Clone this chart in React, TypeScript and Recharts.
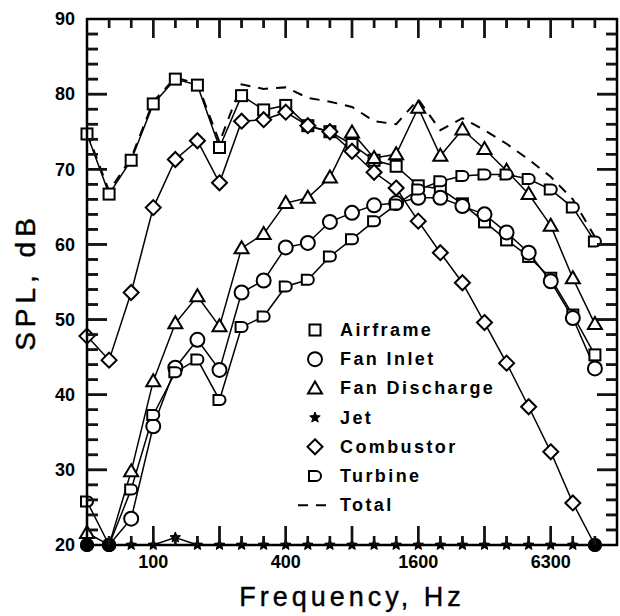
import React from 'react';
import { LineChart, Line, XAxis, YAxis, Legend, Label } from 'recharts';

// one-third octave bands, Hz
const bands = [50, 63, 80, 100, 125, 160, 200, 250, 315, 400, 500, 630, 800, 1000, 1250, 1600, 2000, 2500, 3150, 4000, 5000, 6300, 8000, 10000];
const labelBands = [3, 9, 15, 21];
const labelText = ['100', '400', '1600', '6300'];
const yLabels = [20, 30, 40, 50, 60, 70, 80, 90];

// SPL, dB
const airframe = [74.7, 66.7, 71.2, 78.7, 82.0, 81.2, 72.9, 79.8, 77.9, 78.5, 75.8, 75.0, 73.3, 71.2, 70.4, 67.8, 67.4, 65.4, 63.0, 60.6, 58.4, 55.5, 50.6, 45.3];
const fanInlet = [20, 20, 23.5, 35.8, 43.6, 47.3, 43.3, 53.6, 55.2, 59.6, 60.2, 63.0, 64.2, 65.2, 65.5, 66.2, 66.2, 65.1, 64.0, 61.6, 58.9, 55.1, 50.2, 43.5];
const fanDischarge = [21.6, 20, 29.8, 41.8, 49.5, 53.1, 49.1, 59.5, 61.4, 65.5, 66.2, 68.9, 74.9, 71.5, 72.0, 78.2, 71.8, 75.3, 72.7, 69.8, 66.7, 62.5, 55.5, 49.4];
const jet = [20, 20, 20, 20, 21, 20, 20, 20, 20, 20, 20, 20, 20, 20, 20, 20, 20, 20, 20, 20, 20, 20, 20, 20];
const combustor = [47.8, 44.6, 53.6, 64.9, 71.3, 73.8, 68.2, 76.4, 76.6, 77.6, 75.8, 75.0, 72.4, 69.6, 67.5, 63.1, 58.9, 54.9, 49.6, 44.2, 38.4, 32.4, 25.6, 20];
const turbine = [25.8, 20, 27.4, 37.3, 43.0, 44.7, 39.3, 49.0, 50.4, 54.4, 55.3, 58.4, 60.7, 63.1, 65.3, 67.3, 68.4, 69.1, 69.3, 69.3, 68.7, 67.3, 64.9, 60.4];
const total = [74.9, 67.1, 71.5, 79.0, 82.2, 81.4, 73.6, 81.3, 80.7, 80.9, 79.5, 79.0, 78.3, 76.4, 76.0, 79.3, 75.2, 76.8, 75.2, 73.4, 71.3, 69.0, 66.0, 61.0];

const FONT = '"Liberation Sans", Arial, sans-serif';
const INK = '#141414';

const W = 620;
const H = 616;
const MARGIN = { top: 19, right: 3, left: 27, bottom: 0 };
const Y_AXIS_W = 60;
const X_AXIS_H = 71;
const PLOT_X = MARGIN.left + Y_AXIS_W;
const PLOT_Y = MARGIN.top;
const PLOT_W = W - MARGIN.left - MARGIN.right - Y_AXIS_W;
const PLOT_H = H - MARGIN.top - MARGIN.bottom - X_AXIS_H;
const X_MAX = 24;
const Y_MIN = 20;
const Y_MAX = 90;

const series = [
    { key: 'airframe', name: 'Airframe', shape: 'square' },
    { key: 'fanInlet', name: 'Fan Inlet', shape: 'circle' },
    { key: 'fanDischarge', name: 'Fan Discharge', shape: 'triangle' },
    { key: 'jet', name: 'Jet', shape: 'star' },
    { key: 'combustor', name: 'Combustor', shape: 'diamond' },
    { key: 'turbine', name: 'Turbine', shape: 'dee' },
];

const data = bands.map((f, i) => ({
    band: i,
    freq: f,
    airframe: airframe[i],
    fanInlet: fanInlet[i],
    fanDischarge: fanDischarge[i],
    jet: jet[i],
    combustor: combustor[i],
    turbine: turbine[i],
    total: total[i],
}));

// how many series sit on the 20 dB floor at a band
const floorCount = (i) => [airframe, fanInlet, fanDischarge, jet, combustor, turbine].filter(a => a[i] <= 20).length;

const starPath = (cx, cy, r) => {
    let d = '';
    for (let k = 0; k < 10; k++) {
        const rr = k % 2 === 0 ? r : r * 0.45;
        const a = -Math.PI / 2 + (k * Math.PI) / 5;
        d += (k === 0 ? 'M' : 'L') + (cx + rr * Math.cos(a)).toFixed(2) + ',' + (cy + rr * Math.sin(a)).toFixed(2);
    }
    return d + 'Z';
};

const Marker = ({ shape, cx, cy }) => {
    const s = { fill: '#fff', stroke: '#000', strokeWidth: 2 };
    switch (shape) {
        case 'square':
            return <rect x={cx - 5.5} y={cy - 5.5} width={11} height={11} {...s} />;
        case 'circle':
            return <circle cx={cx} cy={cy} r={7} {...s} />;
        case 'triangle':
            return <path d={`M${cx},${cy - 7} L${cx + 7},${cy + 5} L${cx - 7},${cy + 5} Z`} {...s} />;
        case 'diamond':
            return <path d={`M${cx},${cy - 7.5} L${cx + 7.5},${cy} L${cx},${cy + 7.5} L${cx - 7.5},${cy} Z`} {...s} />;
        case 'star':
            return <path d={starPath(cx, cy, 5.5)} fill="#000" stroke="#000" strokeWidth={1} />;
        case 'dee':
            return <path d={`M${cx - 6},${cy - 5} L${cx - 6},${cy + 5} L${cx + 1},${cy + 5} A5,5 0 0 0 ${cx + 1},${cy - 5} Z`} {...s} />;
        default:
            return null;
    }
};

const makeDot = (shape) => (props) => {
    const { cx, cy, index, value } = props;
    if (cx == null || cy == null) return <g key={index} />;
    if (value <= 20 && floorCount(index) >= 2) {
        return <circle key={index} cx={cx} cy={cy} r={7} fill="#000" />;
    }
    return <g key={index}><Marker shape={shape} cx={cx} cy={cy} /></g>;
};

const xTickVals = [];
for (let i = 0; i <= X_MAX; i++) xTickVals.push(i);
const yTickVals = [];
for (let v = Y_MIN; v <= Y_MAX; v += 2) yTickVals.push(v);

const xLen = (v) => (v % 3 === 0 ? 19 : 9);
const yLen = (v) => (v % 10 === 0 ? 20 : 11);

const legendText = { fontFamily: FONT, fontWeight: 'bold', fontSize: 18, letterSpacing: 2.4, fill: '#000' };
const LEG_X = 296;
const LEG_Y = 316;

// overlay: frame, inward tick marks (as thin filled rects) and the key
const Overlay = () => {
    const sx = (v) => PLOT_X + (v / X_MAX) * PLOT_W;
    const sy = (v) => PLOT_Y + ((Y_MAX - v) / (Y_MAX - Y_MIN)) * PLOT_H;
    return (
        <svg width={W} height={H} style={{ display: 'block', pointerEvents: 'none' }}>
            <rect x={PLOT_X} y={PLOT_Y} width={PLOT_W} height={PLOT_H} fill="none" stroke="#000" strokeWidth={2.5} />
            {xTickVals.filter(v => v > 0 && v < X_MAX).map(v => (
                <g key={'x' + v} fill={INK}>
                    <rect x={sx(v) - 1.2} y={PLOT_Y + PLOT_H - xLen(v)} width={2.4} height={xLen(v)} />
                    <rect x={sx(v) - 1.2} y={PLOT_Y} width={2.4} height={xLen(v)} />
                </g>
            ))}
            {yTickVals.filter(v => v > Y_MIN && v < Y_MAX).map(v => (
                <g key={'y' + v} fill={INK}>
                    <rect x={PLOT_X} y={sy(v) - 1.25} width={yLen(v)} height={2.5} />
                    <rect x={PLOT_X + PLOT_W - yLen(v)} y={sy(v) - 1.25} width={yLen(v)} height={2.5} />
                </g>
            ))}
            {series.map((s, i) => (
                <g key={s.key}>
                    <Marker shape={s.shape} cx={LEG_X + 19} cy={LEG_Y + 14 + i * 29.2} />
                    <text x={LEG_X + 44} y={LEG_Y + 14 + i * 29.2} dominantBaseline="central" {...legendText}>{s.name}</text>
                </g>
            ))}
            <line x1={LEG_X + 2} x2={LEG_X + 34} y1={LEG_Y + 14 + 6 * 29.2} y2={LEG_Y + 14 + 6 * 29.2} stroke="#000" strokeWidth={2} strokeDasharray="10 8" />
            <text x={LEG_X + 44} y={LEG_Y + 14 + 6 * 29.2} dominantBaseline="central" {...legendText}>Total</text>
        </svg>
    );
};

const tickFont = { fontFamily: FONT, fontSize: 18, fontWeight: 'bold', fill: '#000' };

// frequency axis tick: inward marks at bottom and top, label on the octaves
const FreqTick = ({ x, y, payload }) => {
    const v = payload.value;
    const li = labelBands.indexOf(v);
    const len = xLen(v);
    return (
        <g>
            {v > 0 && v < X_MAX && <path d={`M${x},${y}V${y - len}`} stroke={INK} strokeWidth={2.4} fill="none" />}
            {v > 0 && v < X_MAX && <path d={`M${x},${y - PLOT_H}V${y - PLOT_H + len}`} stroke={INK} strokeWidth={2.4} fill="none" />}
            {li >= 0 && <text x={x} y={y + 23} textAnchor="middle" {...tickFont}>{labelText[li]}</text>}
        </g>
    );
};

// level axis tick: inward marks at left and right, label every 10 dB
const SplTick = ({ x, y, payload }) => {
    const v = payload.value;
    const len = yLen(v);
    return (
        <g>
            {v > Y_MIN && v < Y_MAX && <path d={`M${x},${y}H${x + len}`} stroke={INK} strokeWidth={2.5} fill="none" />}
            {v > Y_MIN && v < Y_MAX && <path d={`M${x + PLOT_W},${y}H${x + PLOT_W - len}`} stroke={INK} strokeWidth={2.5} fill="none" />}
            {yLabels.includes(v) && <text x={x - 12} y={y} dy="0.35em" textAnchor="end" {...tickFont}>{v}</text>}
        </g>
    );
};

export default function App() {
    return (
        <div style={{ position: 'absolute', left: 0, top: 0, background: '#fff' }}>
            <LineChart width={W} height={H} data={data} margin={MARGIN}>
                <XAxis
                    dataKey="band"
                    type="number"
                    domain={[0, X_MAX]}
                    ticks={xTickVals}
                    interval={0}
                    tickLine={false}
                    axisLine={false}
                    tickSize={0}
                    tickMargin={0}
                    height={X_AXIS_H}
                    tick={(p) => <FreqTick {...p} />}
                >
                    <Label
                        content={({ viewBox }) => (
                            <text x={viewBox.x + viewBox.width / 2} y={viewBox.y + 61} textAnchor="middle" fontFamily={FONT} fontSize={27} letterSpacing={4} stroke="#000" strokeWidth={0.4} fill="#000">Frequency, Hz</text>
                        )}
                    />
                </XAxis>
                <YAxis
                    type="number"
                    domain={[Y_MIN, Y_MAX]}
                    ticks={yTickVals}
                    interval={0}
                    tickLine={false}
                    axisLine={false}
                    tickSize={0}
                    tickMargin={0}
                    width={Y_AXIS_W}
                    tick={(p) => <SplTick {...p} />}
                >
                    <Label
                        content={({ viewBox }) => {
                            const x = viewBox.x - 2;
                            const y = viewBox.y + viewBox.height / 2;
                            return (
                                <text x={x} y={y} transform={`rotate(-90 ${x} ${y})`} textAnchor="middle" dominantBaseline="central" fontFamily={FONT} fontSize={28} letterSpacing={5} stroke="#000" strokeWidth={0.4} fill="#000">SPL, dB</text>
                            );
                        }}
                    />
                </YAxis>

                <Line dataKey="total" name="Total" stroke="#000" strokeWidth={2} strokeDasharray="10 8" dot={false} activeDot={false} isAnimationActive={false} />
                {series.map(s => (
                    <Line
                        key={s.key}
                        dataKey={s.key}
                        name={s.name}
                        stroke="#000"
                        strokeWidth={1.5}
                        dot={makeDot(s.shape)}
                        activeDot={false}
                        isAnimationActive={false}
                    />
                ))}

                <Legend
                    layout="vertical"
                    align="center"
                    verticalAlign="middle"
                    content={() => <Overlay />}
                    wrapperStyle={{ left: 0, top: 0, width: W, height: H }}
                />
            </LineChart>
        </div>
    );
}
